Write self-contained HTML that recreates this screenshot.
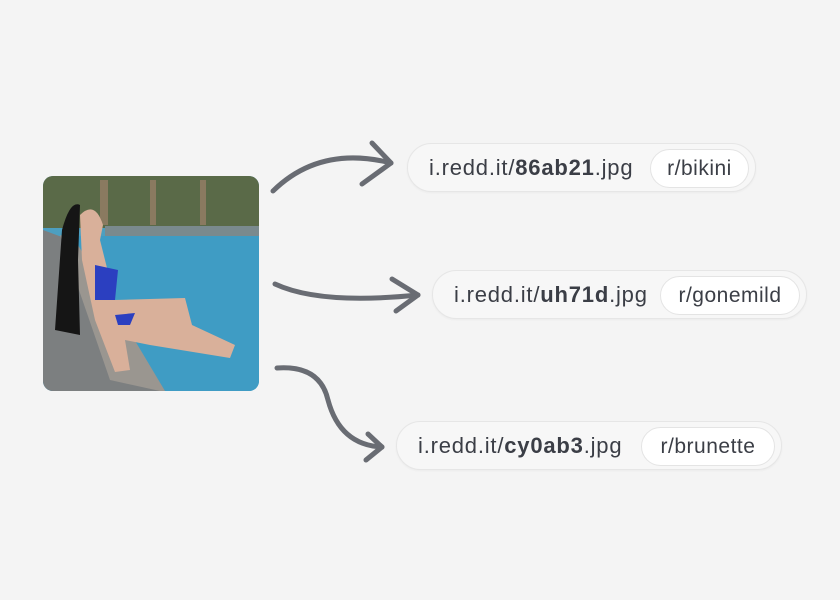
<!DOCTYPE html>
<html><head><style>
body{margin:0;width:840px;height:600px;background:#f4f4f4;position:relative;overflow:hidden;font-family:"Liberation Sans",sans-serif}
.pill{position:absolute;height:49px;border:1px solid #e6e6e6;border-radius:26px;background:#f7f7f7;box-shadow:0 1px 2px rgba(0,0,0,.04);box-sizing:border-box}
.url{position:absolute;left:21px;top:11px;font-size:22px;letter-spacing:0.8px;color:#3b3e46;white-space:nowrap}
.url b{font-weight:bold}
.tag{position:absolute;top:5px;height:39px;border:1px solid #e4e4e4;border-radius:20px;background:#fff;box-sizing:border-box;font-size:21px;letter-spacing:0.5px;color:#3b3e46;line-height:37px;text-align:center}
</style></head><body>
<svg width="840" height="600" style="position:absolute;left:0;top:0">
<defs><clipPath id="c"><rect x="43" y="176" width="216" height="215" rx="10"/></clipPath></defs>
<g clip-path="url(#c)">
<rect x="43" y="176" width="216" height="215" fill="#4d9fc0"/>
<rect x="43" y="176" width="216" height="52" fill="#5a6a48"/>
<rect x="100" y="180" width="8" height="45" fill="#8a7a60"/><rect x="150" y="180" width="6" height="45" fill="#8a7a60"/><rect x="200" y="180" width="6" height="45" fill="#8a7a60"/>
<rect x="105" y="226" width="154" height="10" fill="#7a8a8e"/>
<rect x="43" y="236" width="216" height="155" fill="#3f9cc4"/>
<path d="M43 230 L70 240 L165 391 L43 391 Z" fill="#7c7f80"/>
<path d="M60 235 L110 380 L160 391 L165 391 L75 240 Z" fill="#9a9690"/>
<path d="M80 205 Q70 200 62 230 L55 330 L80 335 L78 260 Z" fill="#151515"/>
<path d="M80 215 Q95 200 103 225 L100 240 L115 300 L185 298 L192 325 L235 345 L230 358 L150 345 L125 340 L130 370 L115 372 L95 320 L82 260 Z" fill="#d9b09a"/>
<path d="M95 265 L118 270 L115 300 L95 300 Z" fill="#2b3fc0"/>
<path d="M115 315 L135 313 L130 325 L118 325 Z" fill="#2b3fc0"/>
</g>
<g fill="none" stroke="#696c73" stroke-width="5" stroke-linecap="round" stroke-linejoin="round">
<path d="M273 191 Q320 145 391 163"/><path d="M372 143 L391 163 L362 184"/>
<path d="M275 284 Q320 305 418 295"/><path d="M392 279 L418 295 L396 311"/>
<path d="M277 368 Q320 365 328 400 Q340 445 382 447"/><path d="M368 434 L382 447 L366 460"/>
</g>
</svg>
<div class="pill" style="left:407px;top:143px;width:349px"><div class="url">i.redd.it/<b>86ab21</b>.jpg</div><div class="tag" style="left:242px;width:99px">r/bikini</div></div>
<div class="pill" style="left:432px;top:270px;width:375px"><div class="url">i.redd.it/<b>uh71d</b>.jpg</div><div class="tag" style="left:227px;width:140px">r/gonemild</div></div>
<div class="pill" style="left:396px;top:421px;width:386px"><div class="url">i.redd.it/<b>cy0ab3</b>.jpg</div><div class="tag" style="left:244px;width:134px">r/brunette</div></div>
</body></html>
